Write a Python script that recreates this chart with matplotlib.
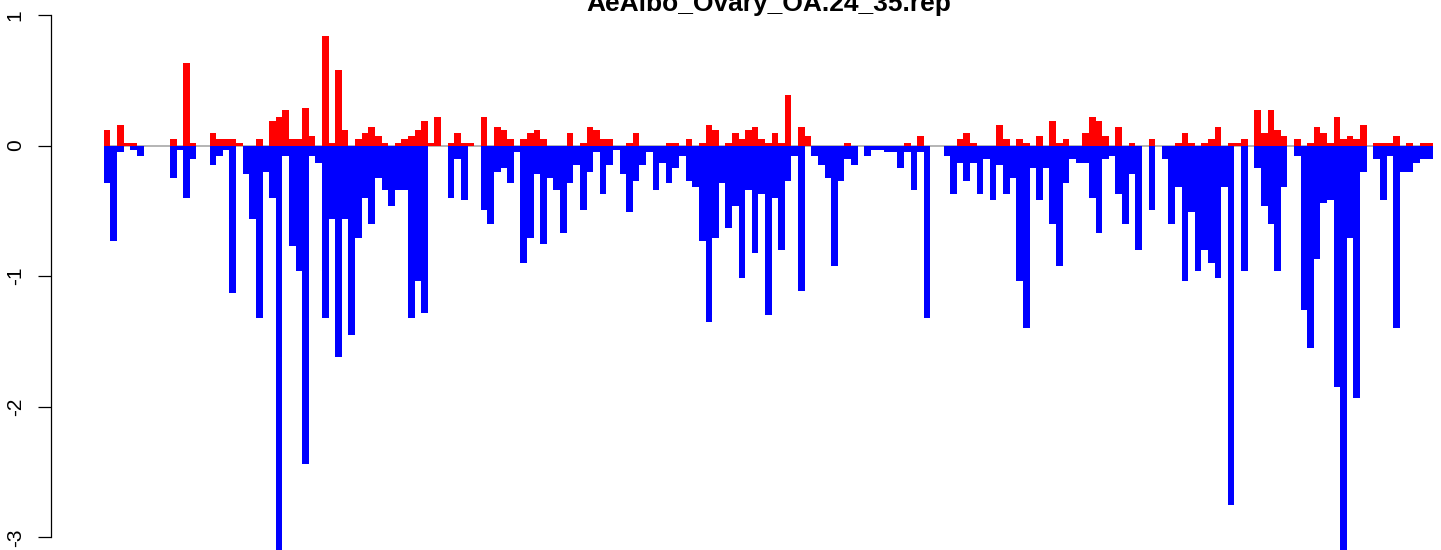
import numpy as np
from matplotlib import pyplot as plt

plt.rcParams['font.family'] = ['Liberation Sans', 'DejaVu Sans']
plt.rcParams['axes.unicode_minus'] = False

title = 'AeAlbo_Ovary_OA.24_35.rep'

# upper (red) and lower (blue) value per bin
up = [0.12, 0, 0.16, 0.02, 0.02, 0, 0, 0, 0, 0,
      0.05, 0, 0.63, 0.02, 0, 0, 0.10, 0.05, 0.05, 0.05,
      0.02, 0, 0, 0.05, 0, 0.19, 0.22, 0.27, 0.05, 0.05,
      0.29, 0.07, 0, 0.84, 0.02, 0.58, 0.12, 0, 0.05, 0.10,
      0.14, 0.07, 0.02, 0, 0.02, 0.05, 0.07, 0.12, 0.19, 0.02,
      0.22, 0, 0.02, 0.10, 0.02, 0.02, 0, 0.22, 0, 0.14,
      0.12, 0.05, 0, 0.05, 0.10, 0.12, 0.05, 0, 0, 0,
      0.10, 0, 0.02, 0.14, 0.12, 0.05, 0.05, 0, 0, 0.02,
      0.10, 0, 0, 0, 0, 0.02, 0.02, 0, 0.05, 0,
      0.02, 0.16, 0.12, 0, 0.02, 0.10, 0.05, 0.12, 0.14, 0.05,
      0.02, 0.10, 0.02, 0.39, 0, 0.14, 0.07, 0, 0, 0,
      0, 0, 0.02, 0, 0, 0, 0, 0, 0, 0,
      0, 0.02, 0, 0.07, 0, 0, 0, 0, 0, 0.05,
      0.10, 0.02, 0, 0, 0, 0.16, 0.05, 0, 0.05, 0.02,
      0, 0.07, 0, 0.19, 0.02, 0.05, 0, 0, 0.10, 0.22,
      0.19, 0.07, 0, 0.14, 0, 0.02, 0, 0, 0.05, 0,
      0, 0, 0.02, 0.10, 0.02, 0, 0.02, 0.05, 0.14, 0,
      0.02, 0.02, 0.05, 0, 0.27, 0.10, 0.27, 0.12, 0.07, 0,
      0.05, 0, 0.02, 0.14, 0.10, 0.02, 0.22, 0.05, 0.07, 0.05,
      0.16, 0, 0.02, 0.02, 0.02, 0.07, 0, 0.02, 0, 0.02,
      0.02]

down = [-0.29, -0.73, -0.05, 0, -0.03, -0.08, 0, 0, 0, 0,
        -0.25, -0.03, -0.40, -0.10, 0, 0, -0.15, -0.08, -0.03, -1.13,
        0, -0.22, -0.56, -1.32, -0.20, -0.40, -3.11, -0.08, -0.77, -0.96,
        -2.44, -0.08, -0.13, -1.32, -0.56, -1.62, -0.56, -1.45, -0.71, -0.40,
        -0.60, -0.25, -0.34, -0.46, -0.34, -0.34, -1.32, -1.04, -1.28, 0,
        0, 0, -0.40, -0.10, -0.42, 0, 0, -0.49, -0.60, -0.20,
        -0.17, -0.29, -0.05, -0.90, -0.71, -0.22, -0.75, -0.25, -0.34, -0.67,
        -0.29, -0.15, -0.49, -0.20, -0.05, -0.37, -0.15, -0.03, -0.22, -0.51,
        -0.27, -0.15, -0.05, -0.34, -0.13, -0.29, -0.17, -0.08, -0.27, -0.32,
        -0.73, -1.35, -0.71, -0.29, -0.63, -0.46, -1.01, -0.34, -0.82, -0.37,
        -1.30, -0.40, -0.80, -0.27, -0.08, -1.11, 0, -0.08, -0.15, -0.25,
        -0.92, -0.27, -0.10, -0.15, 0, -0.08, -0.03, -0.03, -0.05, -0.05,
        -0.17, -0.05, -0.34, -0.05, -1.32, 0, 0, -0.08, -0.37, -0.13,
        -0.27, -0.13, -0.37, -0.10, -0.42, -0.15, -0.37, -0.25, -1.04, -1.40,
        -0.17, -0.42, -0.17, -0.60, -0.92, -0.29, -0.10, -0.13, -0.13, -0.40,
        -0.67, -0.10, -0.08, -0.37, -0.60, -0.22, -0.80, 0, -0.49, 0,
        -0.10, -0.60, -0.32, -1.04, -0.51, -0.96, -0.80, -0.90, -1.01, -0.32,
        -2.75, 0, -0.96, 0, -0.17, -0.46, -0.60, -0.96, -0.32, 0,
        -0.08, -1.26, -1.55, -0.87, -0.44, -0.42, -1.85, -3.11, -0.71, -1.93,
        -0.20, 0, -0.10, -0.42, -0.08, -1.40, -0.20, -0.20, -0.13, -0.10,
        -0.10]

yticks = [-3, -2, -1, 0, 1]

n = len(up)
x = np.arange(n)

fig = plt.figure(figsize=(14.41, 5.5), dpi=100)
ax = fig.add_axes([50.7/1441, 0, 1435.3/1441, 1])

ax.hlines(0, 0, n, color='#a8a8a8', lw=1.2, zorder=1)
ax.bar(x, up, width=1, align='edge', color='#ff0000', lw=0, zorder=2)
ax.bar(x, down, width=1, align='edge', color='#0000ff', lw=0, zorder=2)

ax.set_xlim(-0.04*n, 1.04*n)
ax.set_ylim(-(550-145.6)/130.6, 145.6/130.6)

for s in ['top', 'right', 'bottom']:
    ax.spines[s].set_visible(False)
ax.spines['left'].set_bounds(-3, 1)
ax.spines['left'].set_linewidth(0.9)
ax.set_xticks([])
ax.set_yticks(yticks)
ax.set_yticklabels([str(t) for t in yticks], rotation=90, va='center', fontsize=15)
ax.tick_params(axis='y', length=9.6, width=0.9, pad=9)

fig.text(769/1441, 1-10.5/550, title, ha='center', va='baseline',
         fontsize=19, fontweight='bold')

fig.savefig('out.png', dpi=100)
